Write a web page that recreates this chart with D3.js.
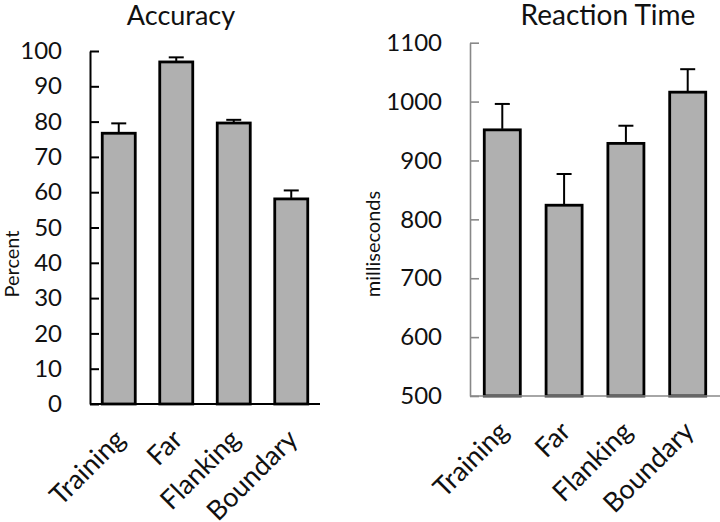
<!DOCTYPE html>
<html>
<head>
<meta charset="utf-8">
<script src="https://cdn.jsdelivr.net/npm/d3@7"></script>
<style>
  body { margin: 0; background: #fff; }
  svg { display: block; font-family: Lato, "Open Sans", sans-serif; }
</style>
</head>
<body>
<svg id="chart" width="720" height="522"></svg>
<script>
const conditions = ['Training', 'Far', 'Flanking', 'Boundary'];

const accuracyMeans = [76.7, 96.9, 79.6, 58.1];
const accuracyErrors = [2.8, 1.3, 0.9, 2.4];
const accuracyTicks = [0, 10, 20, 30, 40, 50, 60, 70, 80, 90, 100];

const rtMeans = [952, 824, 929, 1016];
const rtErrors = [44, 53, 30, 39];
const rtTicks = [500, 600, 700, 800, 900, 1000, 1100];

const svg = d3.select('#chart');

function drawPanel(opts) {
  const g = svg.append('g');

  const x = d3.scaleBand()
    .domain(conditions)
    .range([opts.left, opts.right])
    .paddingInner(opts.padInner)
    .paddingOuter(opts.padOuter);

  const y = d3.scaleLinear()
    .domain(opts.domain)
    .range([opts.bottom, opts.top]);

  // y axis, ticks point into the plot
  const yAxis = g.append('g')
    .attr('transform', `translate(${opts.left},0)`)
    .call(d3.axisLeft(y).tickValues(opts.ticks).tickFormat(d3.format('d'))
      .tickSizeInner(-9).tickSizeOuter(0).tickPadding(28));
  yAxis.selectAll('path, line')
    .attr('stroke', opts.axisColor)
    .attr('stroke-width', opts.axisWidth);
  yAxis.selectAll('text')
    .attr('font-size', 24)
    .attr('fill', '#111')
    .attr('font-family', 'Lato, sans-serif');

  // bars
  g.append('g')
    .selectAll('rect')
    .data(opts.means)
    .join('rect')
    .attr('x', (d, i) => x(conditions[i]))
    .attr('y', d => y(d))
    .attr('width', x.bandwidth())
    .attr('height', d => opts.bottom - y(d))
    .attr('fill', '#b0b0b0')
    .attr('stroke', '#000')
    .attr('stroke-width', 2.8);

  // error bars (upper only)
  const err = g.append('g')
    .attr('stroke', '#000')
    .attr('stroke-width', 2);
  opts.means.forEach((m, i) => {
    const cx = x(conditions[i]) + x.bandwidth() / 2;
    err.append('line')
      .attr('x1', cx).attr('x2', cx)
      .attr('y1', y(m) - 1).attr('y2', y(m + opts.errors[i]));
    err.append('line')
      .attr('x1', cx - 7.5).attr('x2', cx + 7.5)
      .attr('y1', y(m + opts.errors[i])).attr('y2', y(m + opts.errors[i]));
  });

  // x axis
  const xAxis = g.append('g')
    .attr('transform', `translate(0,${opts.bottom})`)
    .call(d3.axisBottom(x).tickSize(0).tickSizeOuter(0).tickPadding(0));
  xAxis.select('.domain')
    .attr('d', `M${opts.left},0H${opts.axisEnd}`)
    .attr('stroke', opts.axisColor)
    .attr('stroke-width', opts.axisWidth);
  xAxis.selectAll('text')
    .attr('font-size', 27)
    .attr('fill', '#111')
    .attr('font-family', 'Lato, sans-serif')
    .attr('text-anchor', 'end')
    .attr('y', 0)
    .attr('dy', 0)
    .attr('transform', 'translate(8,37) rotate(-45)');

  // title
  g.append('text')
    .attr('x', opts.titleX)
    .attr('y', 25)
    .attr('text-anchor', 'middle')
    .attr('font-size', opts.titleSize)
    .attr('fill', '#111')
    .text(opts.title);

  // y label
  g.append('text')
    .attr('transform', `translate(${opts.labelX},${opts.labelY}) rotate(-90)`)
    .attr('text-anchor', 'middle')
    .attr('font-size', 20)
    .attr('fill', '#111')
    .text(opts.yLabel);
}

drawPanel({
  means: accuracyMeans, errors: accuracyErrors, ticks: accuracyTicks,
  domain: [0, 100], left: 90, right: 320, axisEnd: 320, top: 51, bottom: 404,
  padInner: 0.426, padOuter: 0.213, axisColor: '#000', axisWidth: 2,
  title: 'Accuracy', titleX: 181, titleSize: 27,
  yLabel: 'Percent', labelX: 19, labelY: 264
});

drawPanel({
  means: rtMeans, errors: rtErrors, ticks: rtTicks,
  domain: [500, 1100], left: 470, right: 720, axisEnd: 720, top: 42.7, bottom: 396,
  padInner: 0.417, padOuter: 0.231, axisColor: '#888', axisWidth: 1.6,
  title: 'Reaction Time', titleX: 608, titleSize: 28,
  yLabel: 'milliseconds', labelX: 380, labelY: 244
});
</script>
</body>
</html>
